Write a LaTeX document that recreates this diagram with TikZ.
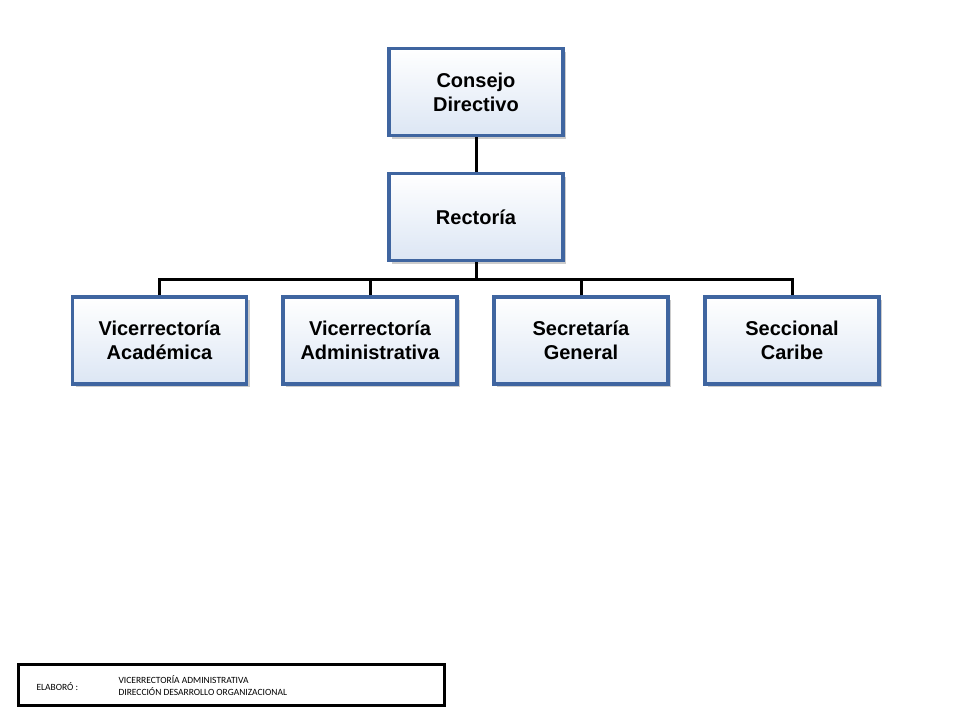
\documentclass[tikz,border=0pt]{standalone}
\usepackage{fontspec}
\setmainfont{Liberation Sans}
\newfontfamily\carl{Carlito}
\usetikzlibrary{shadows}
\definecolor{bord}{HTML}{3F65A0}
\definecolor{fillb}{HTML}{DCE6F4}
\tikzset{
  box/.style={draw=bord, line width=3.5pt, top color=white, bottom color=fillb,
    minimum width=174pt, minimum height=87pt, align=center, inner sep=0pt,
    font=\fontsize{20}{24}\selectfont\bfseries,
    drop shadow={shadow xshift=3pt, shadow yshift=-3pt, opacity=0.4}},
  conn/.style={line width=3pt, black}
}
\begin{document}
\begin{tikzpicture}[x=1pt,y=-1pt]
\useasboundingbox (0,0) rectangle (960,720);
\node[box] (cd) at (476,92) {Consejo\\Directivo};
\node[box] (re) at (476,217) {Rectoría};
\node[box] (va) at (159.5,340.5) {Vicerrectoría\\Académica};
\node[box] (vd) at (370,340.5) {Vicerrectoría\\Administrativa};
\node[box] (sg) at (581,340.5) {Secretaría\\General};
\node[box] (sc) at (792,340.5) {Seccional\\Caribe};
\coordinate (bus) at (476,279);
\draw[conn] (cd) -- (re);
\draw[conn] (re.south) -- (bus);
\draw[conn] (va.north) |- (bus) -| (sc.north);
\draw[conn] (vd.north) -- (vd.north |- bus);
\draw[conn] (sg.north) -- (sg.north |- bus);
\node[draw, line width=2.5pt, minimum width=426pt, minimum height=41pt, inner sep=0pt] (ft) at (231.5,685) {};
\node[anchor=west, font=\carl\fontsize{9.5}{11}\selectfont] (el) at (33,687) {ELABORÓ :};
\node[anchor=west, align=left, font=\carl\fontsize{9.5}{12}\selectfont] (tx) at (115,686) {VICERRECTORÍA ADMINISTRATIVA\\DIRECCIÓN DESARROLLO ORGANIZACIONAL};
\end{tikzpicture}
\end{document}
